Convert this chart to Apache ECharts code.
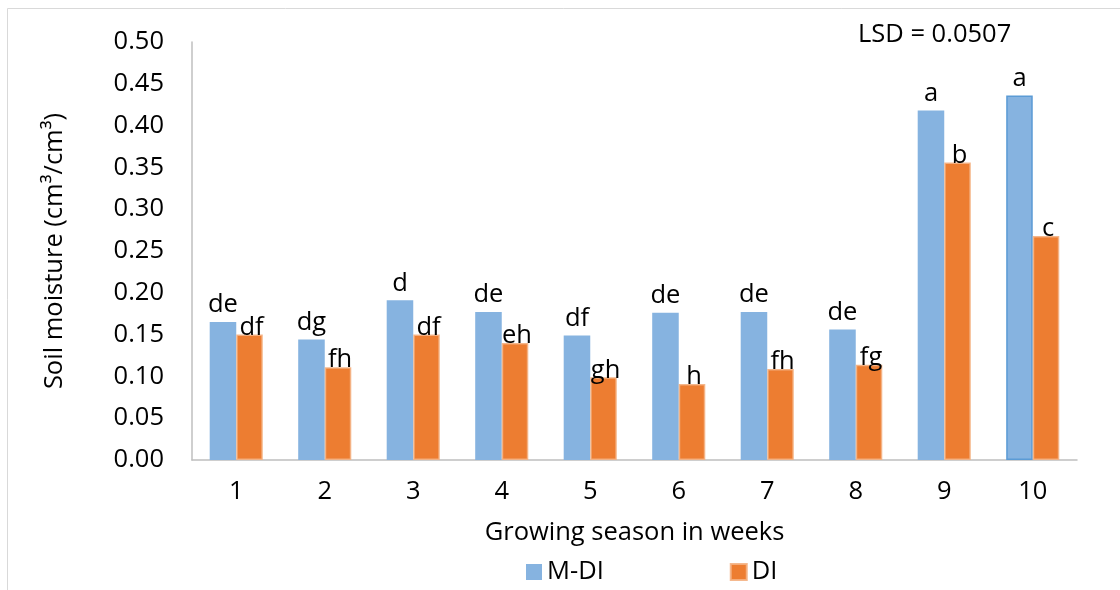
<!DOCTYPE html>
<html>
<head>
<meta charset="utf-8">
<script src="https://cdn.jsdelivr.net/npm/echarts@6/dist/echarts.min.js"></script>
<style>
  html, body { margin: 0; padding: 0; background: #fff; }
  #chart { width: 1120px; height: 590px; }
</style>
</head>
<body>
<div id="chart"></div>
<script>
// Soil moisture by week under two irrigation regimes
const weeks = ['1', '2', '3', '4', '5', '6', '7', '8', '9', '10'];
const mdiValues = [0.165, 0.144, 0.191, 0.177, 0.149, 0.176, 0.177, 0.156, 0.418, 0.436];
const diValues  = [0.150, 0.111, 0.150, 0.140, 0.099, 0.091, 0.109, 0.114, 0.356, 0.268];
const mdiLetters = ['de', 'dg', 'd', 'de', 'df', 'de', 'de', 'de', 'a', 'a'];
const diLetters  = ['df', 'fh', 'df', 'eh', 'gh', 'h', 'fh', 'fg', 'b', 'c'];
const yTicks = ['0.00', '0.05', '0.10', '0.15', '0.20', '0.25', '0.30', '0.35', '0.40', '0.45', '0.50'];
const lsdText = 'LSD = 0.0507';

const FONT = '"Open Sans", "Noto Sans", sans-serif';
const FS = 25.5;
const BLUE = '#86B3E0';
const ORANGE = '#ED7D31';

const chart = echarts.init(document.getElementById('chart'));

// the last M-DI bar carries a darker outline
const mdiData = mdiValues.map((v, i) => i === mdiValues.length - 1
  ? { value: v, itemStyle: { borderColor: '#5B9BD5', borderWidth: 1.5 } }
  : v);

chart.setOption({
  backgroundColor: '#fff',
  animation: false,
  textStyle: { fontFamily: FONT },
  grid: { left: 192, right: 43, top: 42, bottom: 130 },
  graphic: [
    { type: 'line', shape: { x1: 7.5, y1: 8.5, x2: 1120, y2: 8.5 }, style: { stroke: '#D9D9D9', lineWidth: 1 } },
    { type: 'line', shape: { x1: 7.5, y1: 8.5, x2: 7.5, y2: 590 }, style: { stroke: '#D9D9D9', lineWidth: 1 } },
    { type: 'text', left: 858, top: 22, style: { text: lsdText, font: FS + 'px ' + FONT, fill: '#000' } }
  ],
  legend: {
    left: 521, top: 554,
    itemWidth: 16, itemHeight: 16, itemGap: 126,
    icon: 'rect',
    textStyle: { fontSize: FS, color: '#000', fontFamily: FONT },
    data: ['M-DI', 'DI']
  },
  xAxis: {
    type: 'category',
    data: weeks,
    name: 'Growing season in weeks',
    nameLocation: 'middle',
    nameGap: 60,
    nameTextStyle: { fontSize: FS, color: '#000', fontFamily: FONT },
    axisLine: { lineStyle: { color: '#BFBFBF', width: 1.5 } },
    axisTick: { show: false },
    axisLabel: { fontSize: FS, color: '#000', margin: 19, fontFamily: FONT }
  },
  yAxis: {
    type: 'value',
    min: 0, max: 0.5, interval: 0.05,
    name: 'Soil moisture (cm³/cm³)',
    nameLocation: 'middle',
    nameGap: 124,
    nameRotate: 90,
    nameTextStyle: { fontSize: FS, color: '#000', fontFamily: FONT },
    axisLine: { show: true, lineStyle: { color: '#BFBFBF', width: 1.5 } },
    axisTick: { show: false },
    splitLine: { show: false },
    axisLabel: {
      fontSize: FS, color: '#000', margin: 28, fontFamily: FONT,
      formatter: (v) => yTicks[Math.round(v / 0.05)]
    }
  },
  series: [
    {
      name: 'M-DI',
      type: 'bar',
      data: mdiData,
      barGap: '0%',
      barCategoryGap: '40%',
      itemStyle: { color: BLUE },
      label: {
        show: true, position: 'top', distance: 4,
        fontSize: FS, color: '#000', fontFamily: FONT,
        formatter: (p) => mdiLetters[p.dataIndex]
      }
    },
    {
      name: 'DI',
      type: 'bar',
      data: diValues,
      itemStyle: { color: ORANGE, borderColor: 'rgba(244,177,131,0.9)', borderWidth: 1.5 },
      label: {
        show: true, position: 'top', distance: 0, offset: [2, 6],
        fontSize: FS, color: '#000', fontFamily: FONT,
        formatter: (p) => diLetters[p.dataIndex]
      }
    }
  ]
});
</script>
</body>
</html>
